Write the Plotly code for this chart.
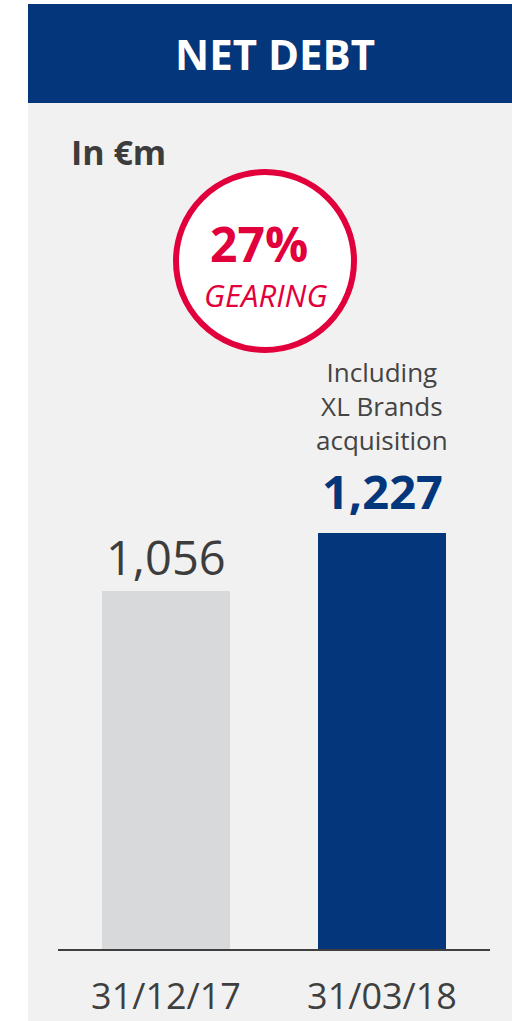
import plotly.graph_objects as go

# ---- data ----
categories = ["31/12/17", "31/03/18"]
net_debt = [1056, 1227]
value_labels = ["1,056", "1,227"]
bar_colors = ["#d8d9db", "#03367a"]
title_text = "NET DEBT"
unit_text = "In €m"
gearing_value = "27%"
gearing_label = "GEARING"
note_text = "Including<br>XL Brands<br>acquisition"

W, H = 512, 1021
NAVY = "#03367a"
RED = "#e2003c"
DARK = "#3c3c3c"

def px(x):
    return x / W

def py(y):
    return (H - y) / H

fig = go.Figure()
fig.add_trace(go.Bar(
    x=categories, y=net_debt,
    marker=dict(color=bar_colors, line=dict(width=0)),
    width=0.5926, hoverinfo="skip", showlegend=False,
))

y_bottom_px, y_top_px = 951, 103
plot_h = y_bottom_px - y_top_px
y_range_max = plot_h * net_debt[0] / 360.0

x_left = -166 / 216.0
x_right = x_left + W / 216.0

shapes = [
    dict(type="rect", xref="paper", yref="paper", x0=px(28), x1=px(520), y0=py(1030), y1=py(103),
         fillcolor="#f1f1f1", line=dict(width=0), layer="below"),
    dict(type="rect", xref="paper", yref="paper", x0=px(28), x1=px(520), y0=py(103), y1=py(4),
         fillcolor=NAVY, line=dict(width=0), layer="below"),
    dict(type="circle", xref="paper", yref="paper", x0=px(176), x1=px(354), y0=py(350), y1=py(172),
         fillcolor="white", line=dict(color=RED, width=6), layer="above"),
    dict(type="line", xref="x", yref="y", x0=-0.5, x1=1.5, y0=0, y1=0,
         line=dict(color="#3f3f3f", width=4), layer="above"),
]

annotations = [
    dict(text=f"<b>{title_text}</b>", xref="paper", yref="paper", x=px(275), y=py(53),
         xanchor="center", yanchor="middle", showarrow=False,
         font=dict(family="Open Sans", size=42, color="white")),
    dict(text=f"<b>{unit_text}</b>", xref="paper", yref="paper", x=px(69), y=py(152),
         xanchor="left", yanchor="middle", showarrow=False,
         font=dict(family="Open Sans", size=34, color=DARK)),
    dict(text=f"<b>{gearing_value}</b>", xref="paper", yref="paper", x=px(259), y=py(243),
         xanchor="center", yanchor="middle", showarrow=False,
         font=dict(family="Open Sans", size=48, color=RED)),
    dict(text=f"<i>{gearing_label}</i>", xref="paper", yref="paper", x=px(265), y=py(295),
         xanchor="center", yanchor="middle", showarrow=False,
         font=dict(family="Open Sans", size=31, color=RED)),
    dict(text=note_text, xref="x", yref="paper", x=1, y=py(352),
         xanchor="center", yanchor="top", showarrow=False, align="center",
         font=dict(family="Open Sans", size=26, color="#444444")),
    dict(text=value_labels[0], xref="x", yref="y", x=0, y=net_debt[0],
         xanchor="center", yanchor="bottom", yshift=0, showarrow=False,
         font=dict(family="Open Sans", size=47, color=DARK)),
    dict(text=f"<b>{value_labels[1]}</b>", xref="x", yref="y", x=1, y=net_debt[1],
         xanchor="center", yanchor="bottom", yshift=8, showarrow=False,
         font=dict(family="Open Sans", size=47, color=NAVY)),
]

fig.update_layout(
    width=W, height=H,
    margin=dict(l=0, r=0, t=0, b=0),
    paper_bgcolor="white", plot_bgcolor="rgba(0,0,0,0)",
    shapes=shapes, annotations=annotations,
    bargap=0,
    xaxis=dict(type="category", range=[x_left, x_right], domain=[0, 1],
               showgrid=False, zeroline=False, showline=False, ticks="",
               tickfont=dict(family="Open Sans", size=36, color="#3f3f3f"),
               ticklabelstandoff=21, fixedrange=True),
    yaxis=dict(range=[0, y_range_max],
               domain=[(H - y_bottom_px) / H, (H - y_top_px) / H],
               showgrid=False, zeroline=False, showline=False, showticklabels=False,
               ticks="", fixedrange=True),
)

fig.write_html(
    "out.html",
    config={"displayModeBar": False, "staticPlot": True},
    post_script="document.body.style.margin='0';document.documentElement.style.overflow='hidden';",
)
